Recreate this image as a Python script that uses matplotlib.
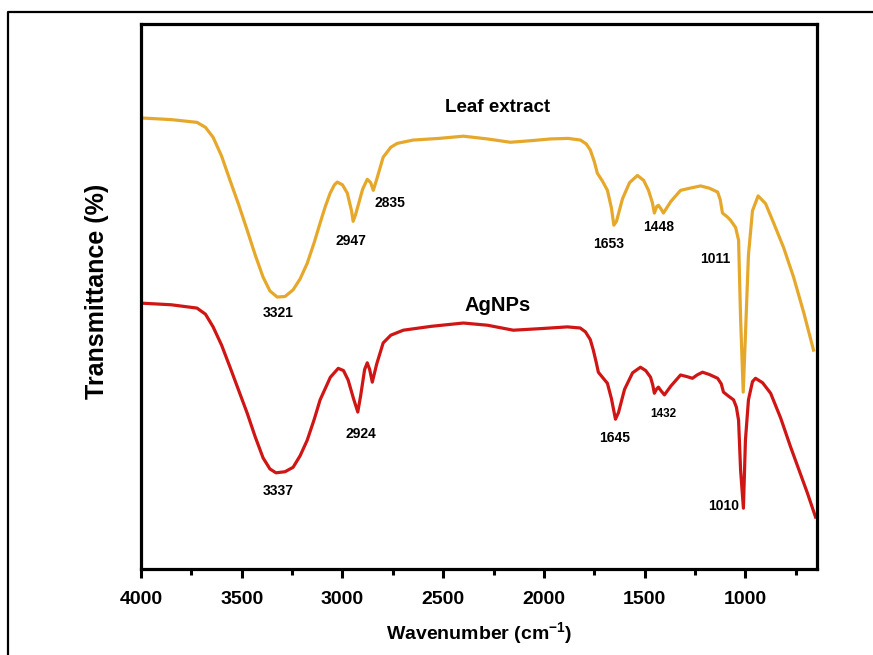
import numpy as np
import matplotlib
matplotlib.use("Agg")
import matplotlib.pyplot as plt
from matplotlib.lines import Line2D

# FTIR spectra (wavenumber in cm-1, transmittance in a.u.)
leaf_wn = [4000, 3850, 3722, 3680, 3642, 3600, 3558, 3515, 3473, 3433, 3394, 3360, 3324, 3285,
           3245, 3210, 3175, 3140, 3111, 3085, 3061, 3040, 3026, 3000, 2976, 2955, 2947, 2935,
           2900, 2877, 2860, 2847, 2830, 2798, 2760, 2728, 2649, 2520, 2400, 2280, 2167, 2060,
           1968, 1880, 1819, 1790, 1770, 1750, 1735, 1710, 1685, 1665, 1653, 1640, 1610, 1575,
           1536, 1505, 1481, 1462, 1452, 1440, 1432, 1420, 1407, 1370, 1322, 1275, 1223, 1180,
           1138, 1125, 1114, 1090, 1074, 1049, 1034, 1024, 1011, 1000, 985, 965, 937, 900,
           860, 810, 761, 710, 662]
leaf_t = [86.3, 86.0, 85.5, 84.6, 82.8, 79.4, 75.0, 70.6, 66.0, 61.5, 57.5, 55.0, 53.9, 54.0,
          55.2, 57.2, 60.0, 63.8, 67.3, 70.3, 72.7, 74.2, 74.7, 74.2, 72.7, 69.5, 67.6, 68.8,
          73.4, 75.2, 74.6, 73.2, 75.2, 79.2, 81.0, 81.7, 82.3, 82.6, 83.0, 82.5, 81.9, 82.2,
          82.5, 82.6, 82.3, 81.6, 80.5, 78.4, 76.3, 74.9, 73.2, 70.0, 66.9, 67.6, 71.7, 74.6,
          75.9, 75.0, 73.2, 71.0, 69.1, 70.3, 70.5, 69.9, 69.1, 71.2, 73.2, 73.6, 74.0, 73.6,
          72.9, 71.5, 69.1, 68.4, 67.8, 66.5, 64.2, 50.0, 36.7, 47.0, 61.5, 69.5, 72.2, 70.8,
          67.3, 62.8, 57.5, 51.0, 44.3]

ag_wn = [4000, 3850, 3722, 3680, 3642, 3600, 3558, 3515, 3473, 3433, 3394, 3360, 3330, 3285,
         3245, 3210, 3175, 3140, 3111, 3060, 3021, 2995, 2972, 2945, 2924, 2910, 2890, 2877,
         2865, 2852, 2830, 2798, 2760, 2698, 2560, 2400, 2280, 2152, 2010, 1884, 1820, 1794,
         1770, 1755, 1740, 1730, 1710, 1685, 1665, 1645, 1630, 1600, 1560, 1521, 1495, 1471,
         1460, 1452, 1440, 1432, 1418, 1402, 1370, 1322, 1290, 1263, 1240, 1213, 1180, 1138,
         1120, 1109, 1085, 1059, 1045, 1034, 1024, 1010, 1000, 985, 965, 950, 915, 875, 825,
         776, 730, 692, 652]
ag_t = [52.8, 52.5, 51.9, 50.8, 48.5, 45.2, 41.2, 37.0, 32.9, 28.6, 24.8, 22.8, 22.1, 22.3,
        23.1, 25.2, 28.0, 31.8, 35.3, 39.4, 41.0, 40.6, 38.9, 35.5, 33.1, 36.0, 40.8, 42.0,
        40.8, 38.5, 41.8, 45.6, 47.0, 47.9, 48.6, 49.2, 48.8, 47.9, 48.2, 48.5, 48.3, 47.6,
        46.2, 44.3, 42.0, 40.3, 39.4, 38.3, 35.5, 31.8, 33.0, 37.2, 40.2, 41.2, 40.6, 39.4,
        38.0, 36.5, 37.3, 37.6, 36.9, 36.2, 37.8, 39.8, 39.5, 39.2, 39.8, 40.3, 39.9, 39.2,
        38.2, 36.7, 36.0, 35.3, 34.0, 31.6, 22.6, 15.7, 28.0, 35.3, 38.6, 39.2, 38.4, 36.5,
        32.0, 26.8, 22.2, 18.4, 14.1]

leaf_peaks = [3321, 2947, 2835, 1653, 1448, 1011]
leaf_peak_pos = [(3321, 51.0), (2957, 64.0), (2763, 70.9), (1680, 63.5), (1432, 66.5), (1149, 60.8)]
ag_peaks = [3337, 2924, 1645, 1432, 1010]
ag_peak_pos = [(3319, 18.8), (2907, 29.1), (1650, 28.4), (1407, 32.7), (1109, 16.1)]

plt.rcParams['font.family'] = ['Liberation Sans', 'DejaVu Sans']

fig = plt.figure(figsize=(8.73, 6.55), dpi=100)
ax = fig.add_axes([0.1615, 0.1313, 0.7743, 0.8321])

ax.plot(leaf_wn, leaf_t, color='#E6A82B', lw=2.3, solid_joinstyle='round')
ax.plot(ag_wn, ag_t, color='#D01515', lw=2.3, solid_joinstyle='round')

ax.text(2231, 88.1, 'Leaf extract', fontsize=13.5, fontweight='bold', ha='center', va='center')
ax.text(2231, 52.4, 'AgNPs', fontsize=14.5, fontweight='bold', ha='center', va='center')

for lab, (x, y) in zip(leaf_peaks, leaf_peak_pos):
    ax.text(x, y, str(lab), fontsize=10, fontweight='bold', ha='center', va='center')
for lab, (x, y) in zip(ag_peaks, ag_peak_pos):
    fs = 8.5 if lab == 1432 else 10
    ax.text(x, y, str(lab), fontsize=fs, fontweight='bold', ha='center', va='center')

ax.set_xlim(4000, 645)
ax.set_ylim(4.7, 103.3)
ax.set_xticks([4000, 3500, 3000, 2500, 2000, 1500, 1000])
ax.set_xticks([3750, 3250, 2750, 2250, 1750, 1250, 750], minor=True)
ax.set_yticks([])
ax.tick_params(axis='x', which='major', direction='out', length=6.5, width=2.2, labelsize=14, pad=9)
ax.tick_params(axis='x', which='minor', direction='out', length=4, width=2.2)
for lbl in ax.get_xticklabels():
    lbl.set_fontweight('bold')
for sp in ax.spines.values():
    sp.set_linewidth(2.3)

ax.set_xlabel('Wavenumber (cm$^{\\mathregular{-1}}$)', fontsize=14, fontweight='bold', va='center')
ax.xaxis.set_label_coords(0.5, -0.119)
ax.set_ylabel('Transmittance (%)', fontsize=18, fontweight='bold', va='center')
ax.yaxis.set_label_coords(-0.065, 0.51)

# outer frame of the figure panel
fx = 8 / 873
fy = 1 - 12 / 655
fig.add_artist(Line2D([fx, fx, 1.0], [0.0, fy, fy], transform=fig.transFigure,
                      color='black', lw=1.6))

fig.savefig('out.png', dpi=100)
